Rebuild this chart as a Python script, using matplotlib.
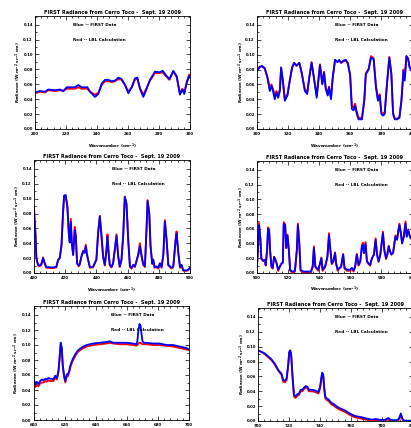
import matplotlib
matplotlib.use("Agg")
import matplotlib.pyplot as plt
from matplotlib.ticker import AutoMinorLocator

# ---------------- data (wavenumber cm^-1, radiance W m^-2 sr^-1 cm) ----------------
wn1 = [200.0, 203.2, 206.5, 208.6, 212.9, 216.1, 218.3, 220.4, 223.7, 225.8, 228.0, 230.1,
       233.8, 235.5, 238.7, 240.9, 243.0, 245.2, 247.3, 249.5, 251.6, 253.8, 255.9, 258.1,
       260.2, 262.4, 264.5, 266.0, 267.7, 269.9, 272.0, 274.2, 277.4, 280.2, 282.4, 284.5,
       286.7, 289.2, 291.4, 293.5, 295.1, 296.3, 297.8, 299.4, 300.0]
blue1 = [0.049, 0.051, 0.050, 0.053, 0.052, 0.053, 0.051, 0.056, 0.056, 0.056, 0.059, 0.056,
         0.056, 0.050, 0.043, 0.047, 0.061, 0.066, 0.066, 0.064, 0.065, 0.069, 0.067, 0.059,
         0.048, 0.056, 0.068, 0.069, 0.054, 0.043, 0.054, 0.066, 0.077, 0.076, 0.078, 0.072,
         0.067, 0.078, 0.071, 0.046, 0.053, 0.047, 0.061, 0.071, 0.069]
red1 = [0.048, 0.050, 0.049, 0.052, 0.051, 0.052, 0.051, 0.054, 0.054, 0.054, 0.056, 0.054,
        0.054, 0.050, 0.046, 0.049, 0.059, 0.064, 0.064, 0.063, 0.064, 0.067, 0.066, 0.059,
        0.050, 0.056, 0.066, 0.068, 0.055, 0.046, 0.055, 0.065, 0.075, 0.075, 0.076, 0.071,
        0.066, 0.077, 0.070, 0.048, 0.054, 0.049, 0.062, 0.073, 0.071]

wn2 = [300.0, 301.7, 303.2, 305.0, 306.7, 308.2, 309.3, 310.3, 311.4, 312.5, 313.6, 314.7,
       315.5, 316.6, 317.9, 319.6, 321.1, 322.6, 323.9, 325.4, 327.2, 328.7, 330.8, 332.3,
       333.6, 335.1, 336.6, 338.4, 340.5, 342.0, 343.1, 344.2, 345.5, 346.3, 347.6, 348.7,
       350.2, 351.7, 352.8, 354.1, 355.6, 357.1, 358.4, 359.9, 361.0, 362.1, 363.1, 364.2,
       365.3, 367.5, 369.0, 370.0, 371.8, 373.3, 375.0, 376.5, 377.8, 378.9, 380.0, 381.0,
       382.1, 383.6, 385.1, 386.4, 387.5, 388.6, 390.1, 391.6, 392.9, 394.2, 395.0, 396.1,
       397.2, 398.1, 399.4, 400.0]
blue2 = [0.078, 0.083, 0.085, 0.082, 0.069, 0.051, 0.058, 0.051, 0.040, 0.049, 0.042, 0.051,
         0.083, 0.065, 0.038, 0.045, 0.065, 0.083, 0.089, 0.085, 0.089, 0.076, 0.051, 0.047,
         0.069, 0.089, 0.069, 0.042, 0.086, 0.060, 0.076, 0.054, 0.045, 0.056, 0.040, 0.069,
         0.093, 0.090, 0.093, 0.089, 0.092, 0.093, 0.089, 0.072, 0.027, 0.025, 0.031, 0.020,
         0.013, 0.013, 0.038, 0.074, 0.080, 0.096, 0.094, 0.056, 0.038, 0.045, 0.020, 0.018,
         0.020, 0.060, 0.096, 0.074, 0.020, 0.013, 0.013, 0.015, 0.038, 0.078, 0.065, 0.098,
         0.094, 0.083, 0.078, 0.077]
red2 = [0.079, 0.084, 0.084, 0.081, 0.070, 0.056, 0.060, 0.054, 0.045, 0.051, 0.046, 0.053,
        0.082, 0.066, 0.041, 0.047, 0.066, 0.083, 0.089, 0.085, 0.089, 0.076, 0.053, 0.050,
        0.069, 0.090, 0.069, 0.045, 0.087, 0.061, 0.077, 0.056, 0.047, 0.057, 0.043, 0.069,
        0.093, 0.090, 0.092, 0.089, 0.091, 0.092, 0.088, 0.073, 0.031, 0.029, 0.034, 0.023,
        0.015, 0.015, 0.040, 0.075, 0.081, 0.098, 0.095, 0.058, 0.040, 0.047, 0.022, 0.021,
        0.022, 0.062, 0.097, 0.075, 0.022, 0.014, 0.014, 0.016, 0.040, 0.080, 0.070, 0.098,
        0.095, 0.084, 0.079, 0.078]

wn3 = [400.0, 400.9, 401.5, 402.6, 403.6, 404.7, 405.8, 406.9, 407.9, 412.2, 414.3, 415.4,
       416.5, 417.6, 418.6, 419.3, 420.3, 421.4, 422.3, 422.9, 423.6, 424.2, 425.1, 426.1,
       426.8, 427.6, 428.7, 429.3, 430.4, 431.5, 432.5, 433.2, 434.0, 435.8, 437.9, 440.0,
       441.1, 442.2, 443.3, 444.3, 445.4, 446.5, 447.1, 447.8, 448.6, 449.7, 450.7, 451.8,
       452.9, 454.0, 455.0, 456.1, 457.2, 458.2, 459.3, 460.4, 461.5, 462.5, 463.6, 464.7,
       466.8, 467.9, 469.0, 470.0, 471.1, 472.2, 472.8, 473.9, 474.7, 475.8, 476.4, 477.3,
       478.6, 479.7, 480.7, 481.8, 482.9, 483.9, 485.0, 486.1, 487.2, 488.2, 489.3, 490.8,
       491.4, 492.5, 493.6, 494.6, 495.7, 497.9, 498.9, 500.0]
blue3 = [0.084, 0.053, 0.020, 0.011, 0.010, 0.012, 0.020, 0.013, 0.008, 0.0075, 0.0085, 0.017,
         0.020, 0.036, 0.080, 0.104, 0.105, 0.089, 0.053, 0.041, 0.069, 0.040, 0.024, 0.058,
         0.049, 0.013, 0.010, 0.012, 0.022, 0.029, 0.027, 0.036, 0.024, 0.008, 0.0085, 0.018,
         0.053, 0.076, 0.049, 0.022, 0.011, 0.031, 0.049, 0.027, 0.011, 0.0085, 0.013, 0.031,
         0.050, 0.022, 0.009, 0.018, 0.051, 0.102, 0.093, 0.044, 0.009, 0.007, 0.011, 0.009,
         0.024, 0.036, 0.022, 0.012, 0.009, 0.062, 0.097, 0.080, 0.036, 0.013, 0.018, 0.008,
         0.009, 0.007, 0.013, 0.008, 0.024, 0.069, 0.044, 0.011, 0.009, 0.007, 0.009, 0.044,
         0.053, 0.027, 0.008, 0.011, 0.0035, 0.0035, 0.005, 0.007]
red3 = [0.088, 0.055, 0.021, 0.010, 0.009, 0.011, 0.021, 0.012, 0.007, 0.0065, 0.0075, 0.017,
        0.021, 0.037, 0.081, 0.104, 0.104, 0.089, 0.055, 0.043, 0.073, 0.042, 0.025, 0.062,
        0.051, 0.013, 0.009, 0.011, 0.022, 0.030, 0.028, 0.038, 0.025, 0.007, 0.0075, 0.018,
        0.055, 0.077, 0.050, 0.022, 0.010, 0.033, 0.052, 0.028, 0.010, 0.0075, 0.013, 0.032,
        0.052, 0.022, 0.008, 0.018, 0.052, 0.103, 0.093, 0.045, 0.008, 0.006, 0.010, 0.008,
        0.025, 0.040, 0.023, 0.011, 0.008, 0.064, 0.098, 0.080, 0.037, 0.012, 0.018, 0.007,
        0.008, 0.006, 0.013, 0.007, 0.025, 0.071, 0.045, 0.010, 0.008, 0.006, 0.008, 0.046,
        0.056, 0.028, 0.007, 0.010, 0.003, 0.003, 0.004, 0.006]

wn4 = [500.0, 500.6, 501.3, 502.2, 502.8, 503.9, 505.0, 505.6, 506.5, 507.1, 507.8, 508.4,
       509.3, 510.1, 511.0, 511.9, 512.7, 513.6, 514.7, 515.7, 516.6, 517.2, 518.1, 518.8,
       519.6, 520.5, 521.3, 522.6, 524.4, 525.6, 526.3, 527.2, 528.0, 529.7, 531.9, 534.7,
       535.8, 536.6, 537.5, 539.4, 540.5, 541.4, 542.2, 543.8, 545.3, 546.3, 547.2, 548.1,
       549.1, 550.2, 550.9, 551.9, 553.0, 554.1, 555.4, 556.3, 557.8, 559.9, 561.0, 562.1,
       563.1, 564.2, 565.3, 566.4, 567.5, 568.1, 568.8, 569.8, 570.7, 571.8, 572.8, 573.9,
       575.2, 576.3, 577.2, 578.2, 579.3, 581.0, 581.9, 583.0, 583.8, 584.7, 585.3, 586.4,
       587.5, 589.0, 590.1, 590.7, 591.6, 592.5, 593.3, 594.4, 595.5, 596.3, 597.2, 598.1,
       598.9, 600.0]
blue4 = [0.009, 0.031, 0.065, 0.045, 0.020, 0.017, 0.018, 0.011, 0.031, 0.060, 0.058, 0.031,
         0.009, 0.007, 0.022, 0.018, 0.013, 0.0045, 0.009, 0.013, 0.014, 0.067, 0.065, 0.034,
         0.051, 0.031, 0.0045, 0.002, 0.003, 0.031, 0.065, 0.040, 0.0045, 0.002, 0.002, 0.002,
         0.009, 0.034, 0.009, 0.0045, 0.013, 0.020, 0.0045, 0.009, 0.022, 0.051, 0.031, 0.013,
         0.016, 0.027, 0.013, 0.0045, 0.007, 0.009, 0.025, 0.007, 0.0045, 0.0045, 0.007, 0.0035,
         0.009, 0.025, 0.011, 0.016, 0.036, 0.038, 0.027, 0.040, 0.016, 0.013, 0.011, 0.020,
         0.025, 0.045, 0.025, 0.016, 0.025, 0.054, 0.031, 0.020, 0.025, 0.036, 0.031, 0.025,
         0.027, 0.049, 0.045, 0.054, 0.065, 0.054, 0.040, 0.049, 0.067, 0.049, 0.058, 0.051,
         0.047, 0.045]
red4 = [0.008, 0.032, 0.068, 0.046, 0.019, 0.016, 0.017, 0.010, 0.032, 0.062, 0.059, 0.031,
        0.008, 0.006, 0.022, 0.017, 0.012, 0.003, 0.008, 0.012, 0.014, 0.069, 0.066, 0.034,
        0.052, 0.031, 0.003, 0.001, 0.002, 0.031, 0.067, 0.041, 0.003, 0.001, 0.001, 0.001,
        0.008, 0.036, 0.008, 0.003, 0.012, 0.021, 0.003, 0.008, 0.022, 0.054, 0.031, 0.012,
        0.015, 0.028, 0.012, 0.003, 0.006, 0.008, 0.026, 0.006, 0.003, 0.003, 0.006, 0.002,
        0.008, 0.026, 0.010, 0.015, 0.038, 0.041, 0.027, 0.042, 0.015, 0.012, 0.010, 0.020,
        0.025, 0.047, 0.025, 0.015, 0.025, 0.056, 0.031, 0.019, 0.025, 0.037, 0.031, 0.025,
        0.027, 0.051, 0.046, 0.056, 0.067, 0.055, 0.041, 0.050, 0.070, 0.050, 0.059, 0.052,
        0.047, 0.045]

wn5 = [600.0, 600.6, 601.3, 602.1, 603.2, 604.3, 605.3, 606.4, 607.5, 608.5, 609.6, 610.7,
       611.8, 612.8, 613.9, 615.0, 616.0, 616.7, 617.5, 618.2, 618.8, 619.7, 620.5, 621.4,
       622.0, 622.9, 623.9, 625.2, 626.7, 628.2, 629.9, 632.1, 634.2, 636.3, 638.5, 642.7,
       647.0, 649.1, 651.3, 655.6, 659.8, 664.1, 666.2, 666.8, 667.5, 668.2, 668.8, 669.4,
       670.1, 670.9, 672.6, 676.9, 681.2, 685.5, 689.7, 694.0, 698.3, 700.0]
blue5 = [0.048, 0.052, 0.047, 0.051, 0.048, 0.052, 0.054, 0.053, 0.055, 0.054, 0.056, 0.055,
         0.055, 0.054, 0.059, 0.056, 0.065, 0.081, 0.103, 0.096, 0.074, 0.059, 0.052, 0.061,
         0.060, 0.065, 0.074, 0.081, 0.087, 0.092, 0.095, 0.098, 0.100, 0.101, 0.102, 0.103,
         0.104, 0.105, 0.103, 0.103, 0.103, 0.102, 0.101, 0.105, 0.120, 0.128, 0.126, 0.116,
         0.105, 0.103, 0.103, 0.102, 0.102, 0.100, 0.100, 0.098, 0.096, 0.094]
red5 = [0.045, 0.048, 0.044, 0.047, 0.045, 0.049, 0.050, 0.050, 0.052, 0.051, 0.053, 0.052,
        0.052, 0.052, 0.056, 0.054, 0.063, 0.080, 0.101, 0.095, 0.072, 0.057, 0.050, 0.059,
        0.058, 0.063, 0.072, 0.079, 0.085, 0.090, 0.093, 0.096, 0.098, 0.099, 0.100, 0.101,
        0.102, 0.103, 0.102, 0.101, 0.101, 0.100, 0.099, 0.100, 0.102, 0.103, 0.103, 0.102,
        0.101, 0.101, 0.101, 0.100, 0.100, 0.099, 0.098, 0.096, 0.094, 0.093]

wn6 = [700.0, 702.2, 704.3, 706.5, 708.7, 710.9, 713.0, 714.1, 715.2, 716.3, 717.4, 718.5,
       719.6, 720.2, 720.9, 721.5, 722.4, 723.3, 724.3, 725.4, 726.5, 727.6, 728.7, 729.8,
       730.9, 732.0, 733.0, 734.1, 735.2, 737.0, 739.1, 740.2, 740.9, 741.5, 742.2, 742.8,
       743.5, 744.6, 745.7, 746.8, 747.8, 748.9, 750.0, 752.2, 754.3, 756.5, 758.7, 760.9,
       763.0, 765.2, 767.4, 769.6, 771.7, 773.9, 776.1, 778.3, 780.4, 782.6, 783.9, 784.6,
       785.4, 787.0, 789.1, 790.9, 791.7, 792.4, 793.0, 793.7, 794.8, 796.7, 800.0]
blue6 = [0.095, 0.093, 0.091, 0.087, 0.083, 0.077, 0.069, 0.066, 0.064, 0.055, 0.054, 0.057,
         0.077, 0.093, 0.095, 0.089, 0.059, 0.035, 0.033, 0.036, 0.037, 0.042, 0.042, 0.045,
         0.047, 0.046, 0.042, 0.042, 0.042, 0.041, 0.039, 0.046, 0.057, 0.065, 0.063, 0.046,
         0.033, 0.030, 0.029, 0.026, 0.024, 0.023, 0.021, 0.018, 0.016, 0.014, 0.011, 0.0085,
         0.0067, 0.0058, 0.0049, 0.0036, 0.0027, 0.0018, 0.0027, 0.0018, 0.0013, 0.0018, 0.0036, 0.004,
         0.0018, 0.0013, 0.0009, 0.0022, 0.0058, 0.010, 0.0067, 0.0022, 0.0004, 0.0004, 0.0004]
red6 = [0.095, 0.093, 0.090, 0.086, 0.082, 0.076, 0.068, 0.065, 0.062, 0.053, 0.052, 0.055,
        0.075, 0.092, 0.094, 0.087, 0.057, 0.033, 0.031, 0.034, 0.035, 0.040, 0.040, 0.043,
        0.045, 0.044, 0.040, 0.040, 0.040, 0.039, 0.037, 0.044, 0.055, 0.063, 0.061, 0.044,
        0.031, 0.028, 0.027, 0.024, 0.022, 0.021, 0.019, 0.016, 0.014, 0.012, 0.009, 0.0065,
        0.005, 0.004, 0.003, 0.002, 0.0012, 0.0005, 0.001, 0.0004, 0.0002, 0.0006, 0.002, 0.0025,
        0.0005, 0.0002, 0.0, 0.001, 0.004, 0.008, 0.005, 0.001, 0.0, 0.0, 0.0]

panels = [(wn1, blue1, red1), (wn2, blue2, red2), (wn3, blue3, red3),
          (wn4, blue4, red4), (wn5, blue5, red5), (wn6, blue6, red6)]
x_starts = [200, 300, 400, 500, 600, 700]
ytick_vals = [0.00, 0.02, 0.04, 0.06, 0.08, 0.10, 0.12, 0.14]

title = "FIRST Radiance from Cerro Toco -  Sept. 19 2009"
legend_blue = "Blue -- FIRST Data"
legend_red = "Red -- LBL Calculation"
xlabel = r"Wavenumber (cm$^{-1}$)"
ylabel = r"Radiance (W m$^{-2}$ sr$^{-1}$ cm)"

# ---------------- layout ----------------
W, H = 411, 428
fig = plt.figure(figsize=(W / 100, H / 100), dpi=100)
fig.patch.set_facecolor("white")

# axes boxes in pixels: left, right, top, bottom
boxes = [(35, 190, 15.7, 129), (257, 412.5, 16, 129),
         (34, 190, 160, 273), (257, 412.5, 161, 273),
         (33.5, 189, 306, 420), (258, 412.5, 308, 421)]
legend_xfrac = [0.245, 0.5, 0.5, 0.5, 0.5, 0.5]

plt.rcParams["font.family"] = "DejaVu Sans"
plt.rcParams["font.weight"] = "bold"
plt.rcParams["mathtext.default"] = "bf"

for i, ((wn, bl, rd), x0, box) in enumerate(zip(panels, x_starts, boxes)):
    l, r, t, b = box
    ax = fig.add_axes([l / W, 1 - b / H, (r - l) / W, (b - t) / H])
    ax.plot(wn, rd, color="red", lw=1.35, solid_joinstyle="round")
    ax.plot(wn, bl, color="blue", lw=1.3, solid_joinstyle="round")
    ax.set_xlim(x0, x0 + 100)
    ax.set_ylim(0, 0.152)
    ax.set_xticks([x0 + 20 * k for k in range(6)])
    ax.set_xticklabels([str(x0 + 20 * k) for k in range(6)])
    ax.set_yticks(ytick_vals)
    ax.set_yticklabels(["%.2f" % v for v in ytick_vals])
    ax.xaxis.set_minor_locator(AutoMinorLocator(5))
    ax.yaxis.set_minor_locator(AutoMinorLocator(2))
    ax.tick_params(which="both", direction="in", top=True, right=True,
                   labelsize=2.8, width=0.5)
    ax.tick_params(which="major", length=3)
    ax.tick_params(which="minor", length=1.5)
    ax.tick_params(axis="x", pad=2.5)
    ax.tick_params(axis="y", pad=1.5)
    for s in ax.spines.values():
        s.set_linewidth(0.6)
    ax.set_title(title, fontsize=3.6, fontweight="bold", pad=1.2)
    ax.set_xlabel(xlabel, fontsize=3.0, fontweight="bold")
    ax.set_ylabel(ylabel, fontsize=3.0, fontweight="bold")
    ax.xaxis.set_label_coords(0.5, -0.105)
    ax.yaxis.set_label_coords(-0.085 if i % 2 == 0 else -0.078, 0.5)
    xt = x0 + 100 * legend_xfrac[i]
    ax.text(xt, 0.140, legend_blue, fontsize=3.1, fontweight="bold", va="center", ha="left")
    ax.text(xt, 0.120, legend_red, fontsize=3.1, fontweight="bold", va="center", ha="left")

fig.savefig("out.png", dpi=100, facecolor="white")
